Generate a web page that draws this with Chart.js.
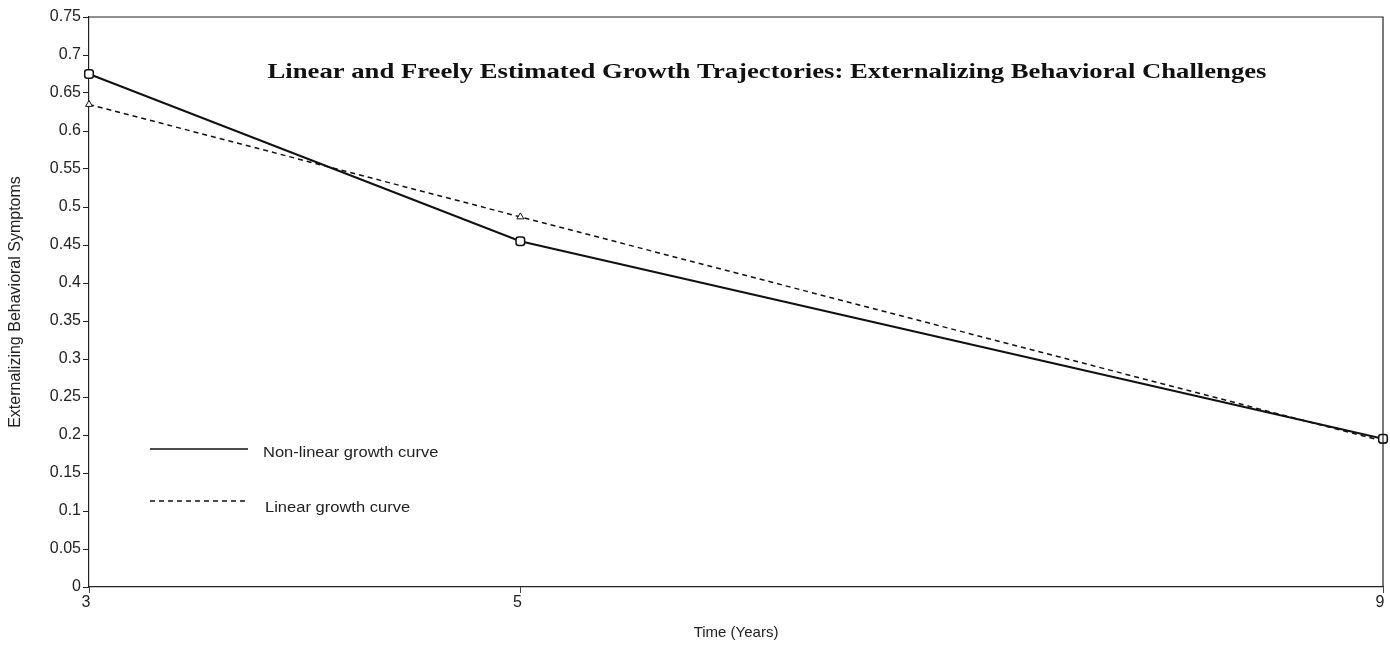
<!DOCTYPE html>
<html>
<head>
<meta charset="utf-8">
<script src="https://cdn.jsdelivr.net/npm/chart.js@4"></script>
<style>
  body { margin: 0; background: #fff; }
  #wrap { width: 1390px; height: 648px; }
</style>
</head>
<body>
<div id="wrap"><canvas id="myChart" width="1390" height="648"></canvas></div>
<script>
// data
var ages = [3, 5, 9];
var nonLinear = [0.675, 0.455, 0.195];
var linear = [0.635, 0.487, 0.192];
var xTicks = [3, 5, 9];

var titleText = 'Linear and Freely Estimated Growth Trajectories: Externalizing Behavioral Challenges';

// text drawn a bit wider than tall, like the original picture
function wideText(c, text, x, y, sx) {
  c.save();
  c.translate(x, y);
  c.scale(sx, 1);
  c.fillText(text, 0, 0);
  c.restore();
}

// frame, title and hand-drawn legend inside the plot
var extras = {
  id: 'extras',
  afterDraw: function (chart) {
    var c = chart.ctx, a = chart.chartArea;
    c.save();
    c.strokeStyle = '#222';
    c.lineWidth = 1.2;
    c.beginPath();
    c.moveTo(a.left, a.top);
    c.lineTo(a.right, a.top);
    c.lineTo(a.right, a.bottom);
    c.stroke();

    c.fillStyle = '#111';
    c.font = 'bold 21px "Liberation Serif", "Times New Roman", serif';
    c.textAlign = 'center';
    c.textBaseline = 'middle';
    var tw = c.measureText(titleText).width;
    wideText(c, titleText, 767, 73, 999 / tw);

    c.strokeStyle = '#111';
    c.lineWidth = 1.5;
    c.beginPath();
    c.moveTo(150, 449); c.lineTo(248, 449);
    c.stroke();
    c.setLineDash([5, 4]);
    c.beginPath();
    c.moveTo(150, 501); c.lineTo(248, 501);
    c.stroke();
    c.setLineDash([]);

    c.font = '14px "Liberation Sans", Arial, sans-serif';
    c.fillStyle = '#222';
    c.textAlign = 'left';
    wideText(c, 'Non-linear growth curve', 263, 453, 1.18);
    wideText(c, 'Linear growth curve', 265, 508, 1.18);
    c.restore();
  }
};

var ctx = document.getElementById('myChart').getContext('2d');
var myChart = new Chart(ctx, {
  type: 'line',
  data: {
    datasets: [{
      label: 'Non-linear growth curve',
      data: ages.map(function (x, i) { return {x: x, y: nonLinear[i]}; }),
      borderColor: '#111',
      borderWidth: 2,
      pointStyle: 'rectRounded',
      pointRadius: 5,
      pointBorderWidth: 1.5,
      pointBackgroundColor: '#fff',
      pointBorderColor: '#111',
      tension: 0
    }, {
      label: 'Linear growth curve',
      data: ages.map(function (x, i) { return {x: x, y: linear[i]}; }),
      borderColor: '#111',
      borderWidth: 1.5,
      borderDash: [5, 4],
      pointStyle: 'triangle',
      pointRadius: 4,
      pointBorderWidth: 1,
      pointBackgroundColor: '#fff',
      pointBorderColor: '#111',
      tension: 0
    }]
  },
  options: {
    responsive: false,
    animation: false,
    clip: false,
    layout: { padding: { top: 17, right: 7, left: 0, bottom: 0 } },
    plugins: {
      legend: { display: false },
      tooltip: { enabled: false }
    },
    scales: {
      x: {
        type: 'linear',
        min: 3,
        max: 9,
        afterBuildTicks: function (scale) {
          scale.ticks = xTicks.map(function (v) { return {value: v}; });
        },
        afterFit: function (scale) { scale.height = 61; },
        border: { color: '#222', width: 1.2 },
        grid: { display: true, drawOnChartArea: false, tickLength: 6, color: '#444' },
        ticks: {
          color: '#222',
          padding: 0,
          labelOffset: -3,
          maxRotation: 0,
          font: { family: '"Liberation Sans", Arial, sans-serif', size: 16 }
        },
        title: {
          display: true,
          text: 'Time (Years)',
          color: '#222',
          padding: { top: 16, bottom: 6 },
          font: { family: '"Liberation Sans", Arial, sans-serif', size: 15 }
        }
      },
      y: {
        min: 0,
        max: 0.75,
        afterFit: function (scale) { scale.width = 89; },
        border: { color: '#222', width: 1.2 },
        grid: { display: true, drawOnChartArea: false, tickLength: 6, color: '#222' },
        ticks: {
          stepSize: 0.05,
          color: '#222',
          padding: 2,
          font: { family: '"Liberation Sans", Arial, sans-serif', size: 16 },
          callback: function (v) { return String(Math.round(v * 100) / 100); }
        },
        title: {
          display: true,
          text: 'Externalizing Behavioral Symptoms',
          color: '#222',
          padding: { top: 6, bottom: 0 },
          font: { family: '"Liberation Sans", Arial, sans-serif', size: 16 }
        }
      }
    }
  },
  plugins: [extras]
});
</script>
</body>
</html>
